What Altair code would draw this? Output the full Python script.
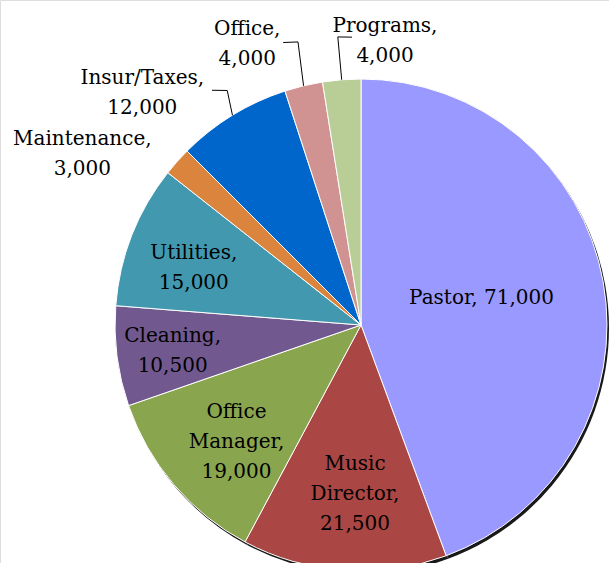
import math
import altair as alt
import pandas as pd

# ---- data ----
categories = ["Pastor", "Music Director", "Office Manager", "Cleaning", "Utilities",
              "Maintenance", "Insur/Taxes", "Office", "Programs"]
values = [71000, 21500, 19000, 10500, 15000, 3000, 12000, 4000, 4000]
label_heads = ["Pastor,", "Music\nDirector,", "Office\nManager,", "Cleaning,", "Utilities,",
               "Maintenance,", "Insur/Taxes,", "Office,", "Programs,"]
colors = ["#9999FF", "#AA4643", "#89A54E", "#71588F", "#4198AF",
          "#DB843D", "#0066CC", "#D19392", "#B9CD96"]

# ---- layout ----
CX, CY, R = 361, 325, 246
FONT = "DejaVu Serif"
LH = 30
TEXT_SHIFT = 1.5  # small vertical nudge of all labels (px)
# label placement: angle offset from slice middle (deg), distance of block centre from pie centre (px)
label_dang = [-3.4, -1.9, -2.4, -0.2, -2.2, -9.8, -11.6, -8.4, 9.3]
label_rad = [124, 168, 170, 190, 177, 328, 320, 305, 287]
# leader lines (polar: deg, px) for outside labels: label end, elbow; last point on slice edge
leaders = {
    "Insur/Taxes": [(327.6, 278), (330.3, 270)],
    "Office": [(344.6, 293), (347.45, 290)],
    "Programs": [(358.2, 288), (355.4, 289)],
}

total = sum(values)
mids = []
acc = 0
for v in values:
    mids.append((acc + v / 2) / total * 360)
    acc += v

texts = []
for h, v in zip(label_heads, values):
    sep = " " if h.startswith("Pastor") else "\n"
    texts.append(f"{h}{sep}{v:,}")

# anchor of first line so that the text block is centred on the wanted point
las, lrs = [], []
for t, m, d, r in zip(texts, mids, label_dang, label_rad):
    a = math.radians(m + d)
    bx, by = r * math.sin(a), -r * math.cos(a)
    n = t.count("\n") + 1
    by = by - (n - 1) * LH / 2 + TEXT_SHIFT
    las.append(math.atan2(bx, -by))
    lrs.append(math.hypot(bx, by))

df = pd.DataFrame({
    "category": categories,
    "value": values,
    "idx": list(range(len(values))),
    "text": texts,
    "la": las,
    "lr": lrs,
})

rows = []
for cat, pts in leaders.items():
    i = categories.index(cat)
    allpts = pts + [(mids[i], R)]
    for k, (a, r) in enumerate(allpts):
        rows.append({
            "grp": cat, "ord": k,
            "lx": CX + r * math.sin(math.radians(a)),
            "ly": CY - r * math.cos(math.radians(a)),
        })
lead_df = pd.DataFrame(rows)

base = alt.Chart(df)

shadow = base.mark_arc(radius=R, color="black", opacity=0.9).encode(
    theta=alt.Theta("value:Q", stack=True),
    order=alt.Order("idx:Q"),
    x=alt.value(CX + 2), y=alt.value(CY + 3),
)

pie = base.mark_arc(radius=R, stroke="white", strokeWidth=1).encode(
    theta=alt.Theta("value:Q", stack=True),
    color=alt.Color("category:N", scale=alt.Scale(domain=categories, range=colors), legend=None),
    order=alt.Order("idx:Q"),
    x=alt.value(CX), y=alt.value(CY),
)

labels = base.mark_text(font=FONT, fontSize=20, color="black", align="center",
                        baseline="middle", lineBreak="\n", lineHeight=LH).encode(
    theta=alt.Theta("la:Q", scale=None, stack=False),
    radius=alt.Radius("lr:Q", scale=None),
    text="text:N",
    x=alt.value(CX), y=alt.value(CY),
)

lines = alt.Chart(lead_df).mark_line(color="black", strokeWidth=1).encode(
    x=alt.X("lx:Q", scale=None, axis=None),
    y=alt.Y("ly:Q", scale=None, axis=None),
    detail="grp:N",
    order="ord:Q",
)

chart = alt.layer(shadow, pie, lines, labels).properties(
    width=609, height=563, padding=0, autosize="none"
).configure_view(stroke=None).configure(background="white")

chart.save("out.html", embed_options={"renderer": "svg", "actions": False})
